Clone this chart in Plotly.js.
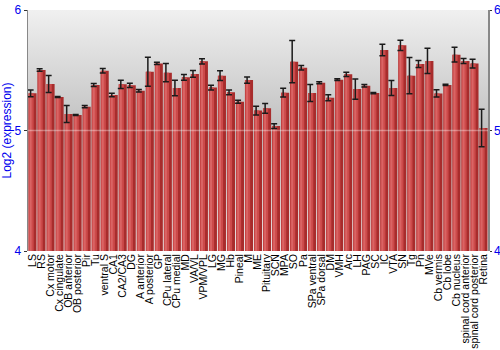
<!DOCTYPE html>
<html>
<head>
<meta charset="utf-8">
<script src="https://cdn.plot.ly/plotly-3.0.1.min.js"></script>
<style>html,body{margin:0;padding:0;background:#fff;}#chart{width:500px;height:350px;}</style>
</head>
<body>
<div id="chart"></div>
<script>
var categories = ["LS","RS","Cx motor","Cx cingulate","OB anterior","OB posterior","Pir","Tu","ventral S","CA1","CA2/CA3","DG","A anterior","A posterior","GP","CPu lateral","CPu medial","MD","VA/VL","VPM/VPL","LG","MG","Hb","Pineal","M","ME","Pituitary","SCN","MPA","SO","Pa","SPa ventral","SPa dorsal","DM","VMH","Arc","LH","PAG","SC","IC","VTA","SN","Tg","Pn","MVe","Cb vermis","Cb lobe","Cb nucleus","spinal cord anterior","spinal cord posterior","Retina"];
var values = [5.309,5.502,5.386,5.278,5.137,5.129,5.198,5.378,5.496,5.295,5.383,5.375,5.330,5.488,5.557,5.480,5.353,5.441,5.469,5.574,5.356,5.455,5.317,5.239,5.419,5.165,5.184,5.037,5.314,5.571,5.521,5.311,5.397,5.272,5.422,5.466,5.344,5.372,5.311,5.668,5.353,5.707,5.455,5.552,5.577,5.308,5.378,5.629,5.577,5.555,5.021];
var errors = [0.028,0.010,0.070,0.005,0.070,0.004,0.010,0.012,0.018,0.014,0.035,0.018,0.010,0.120,0.010,0.075,0.064,0.024,0.028,0.022,0.020,0.040,0.020,0.012,0.026,0.037,0.040,0.020,0.036,0.175,0.018,0.070,0.008,0.025,0.008,0.017,0.084,0.010,0.005,0.048,0.062,0.043,0.150,0.029,0.105,0.030,0.005,0.061,0.020,0.036,0.156];
var yTicks = [4,5,6];

var font = "Liberation Sans, Arial, sans-serif";
var svg = '<svg xmlns="http://www.w3.org/2000/svg" width="100" height="100" preserveAspectRatio="none"><defs><linearGradient id="g" x1="0" y1="0" x2="0" y2="1"><stop offset="0" stop-color="#f0f0f0"/><stop offset="0.5" stop-color="#c0c0c0"/><stop offset="1" stop-color="#f4f4f4"/></linearGradient></defs><rect width="100" height="100" fill="url(#g)"/></svg>';
var bgSrc = 'data:image/svg+xml;charset=utf-8,' + encodeURIComponent(svg);

var base = {
  type: 'bar', x: categories, y: values, base: 0,
  width: 0.9, offset: -0.45,
  marker: {color: '#a82c2c', line: {width: 0}},
  hoverinfo: 'x+y', showlegend: false
};
var stripe1 = {
  type: 'bar', x: categories, y: values,
  width: 0.55, offset: -0.42,
  marker: {color: '#cc4a4a', line: {width: 0}},
  hoverinfo: 'skip', showlegend: false
};
var stripe2 = {
  type: 'bar', x: categories, y: values,
  width: 0.22, offset: -0.32,
  marker: {color: '#da6464', line: {width: 0}},
  hoverinfo: 'skip', showlegend: false,
  error_y: {type: 'data', array: errors, visible: true, color: '#1a1a1a', thickness: 1.5, width: 3}
};
var rightAxisTrace = {
  type: 'scatter', mode: 'markers', x: categories, y: values, yaxis: 'y2',
  marker: {opacity: 0}, hoverinfo: 'skip', showlegend: false
};

var layout = {
  width: 500, height: 350,
  margin: {l: 28, r: 12, t: 10, b: 99, pad: 0},
  paper_bgcolor: '#ffffff',
  plot_bgcolor: 'rgba(0,0,0,0)',
  barmode: 'overlay',
  font: {family: font, size: 11, color: '#000'},
  xaxis: {
    type: 'category', tickangle: -90, ticks: '', showgrid: false,
    range: [-0.5, categories.length - 0.5], autorange: false,
    tickmode: 'array', tickvals: categories, ticktext: categories,
    tickfont: {family: font, size: 10.5, color: '#000'},
    showline: false, zeroline: false, automargin: false
  },
  yaxis: {
    range: [4, 6], tickvals: yTicks, ticktext: yTicks.map(String),
    ticks: 'outside', ticklen: 3, tickcolor: '#333', tickwidth: 1,
    tickfont: {family: font, size: 12, color: '#0000ee'},
    showline: true, linecolor: '#888', linewidth: 1.5,
    showgrid: false, zeroline: false, automargin: false,
    title: {text: 'Log2 (expression)', font: {family: font, size: 12, color: '#0000ee'}, standoff: 4}
  },
  yaxis2: {
    overlaying: 'y', side: 'right', range: [4, 6], tickvals: yTicks, ticktext: yTicks.map(String),
    ticks: 'outside', ticklen: 2, tickcolor: '#333', tickwidth: 1,
    tickfont: {family: font, size: 12, color: '#0000ee'},
    showline: true, linecolor: '#888', linewidth: 1.5,
    showgrid: false, zeroline: false, automargin: false
  },
  images: [{
    source: bgSrc, xref: 'paper', yref: 'paper', x: 0, y: 1, sizex: 1, sizey: 1,
    sizing: 'stretch', xanchor: 'left', yanchor: 'top', layer: 'below'
  }],
  shapes: [{
    type: 'line', xref: 'paper', x0: 0, x1: 1, yref: 'y', y0: 5, y1: 5,
    line: {color: 'rgba(255,255,255,0.35)', width: 1.5}, layer: 'above'
  }]
};

Plotly.newPlot('chart', [base, stripe1, stripe2, rightAxisTrace], layout, {displayModeBar: false, staticPlot: true});
</script>
</body>
</html>
